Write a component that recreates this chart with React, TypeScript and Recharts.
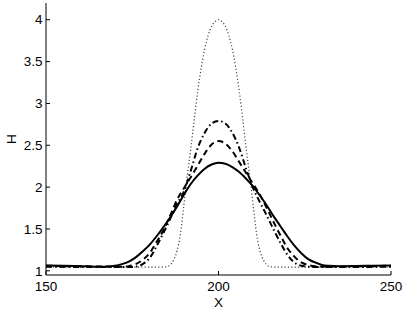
import React from 'react';
import { LineChart, Line, XAxis, YAxis } from 'recharts';

// Tick labels
const xTicks = [150, 200, 250];
const yTicks = [1, 1.5, 2, 2.5, 3, 3.5, 4];

// Solid curve
const solidX = [150, 155, 160, 165, 168, 170, 172, 174, 176, 178, 180, 182, 184, 186, 188, 190, 192, 194, 196, 198, 200, 202, 204, 206, 208, 210, 212, 214, 216, 218, 220, 222, 224, 226, 228, 230, 232, 235, 240, 245, 250];
const solidH = [1.065, 1.062, 1.056, 1.05, 1.052, 1.06, 1.08, 1.11, 1.16, 1.23, 1.31, 1.41, 1.52, 1.64, 1.77, 1.91, 2.04, 2.14, 2.22, 2.27, 2.29, 2.28, 2.24, 2.18, 2.10, 2.01, 1.90, 1.78, 1.65, 1.53, 1.41, 1.30, 1.21, 1.14, 1.10, 1.07, 1.06, 1.055, 1.058, 1.062, 1.065];

// Dashed curve
const dashedX = [150, 160, 170, 172, 174, 176, 178, 180, 182, 184, 186, 188, 190, 192, 194, 196, 198, 200, 202, 204, 206, 208, 210, 212, 214, 216, 218, 220, 222, 224, 226, 228, 230, 240, 250];
const dashedH = [1.06, 1.055, 1.05, 1.05, 1.055, 1.08, 1.13, 1.21, 1.34, 1.48, 1.66, 1.85, 1.99, 2.12, 2.26, 2.40, 2.51, 2.55, 2.52, 2.43, 2.30, 2.17, 2.04, 1.91, 1.75, 1.58, 1.42, 1.27, 1.17, 1.10, 1.07, 1.055, 1.05, 1.055, 1.06];

// Dash-dot curve
const dashDotX = [150, 160, 170, 174, 176, 178, 180, 182, 184, 186, 188, 190, 192, 194, 196, 198, 200, 202, 204, 206, 208, 210, 212, 214, 216, 218, 220, 222, 224, 226, 228, 240, 250];
const dashDotH = [1.05, 1.045, 1.045, 1.045, 1.05, 1.08, 1.15, 1.29, 1.45, 1.62, 1.80, 1.95, 2.20, 2.47, 2.65, 2.76, 2.79, 2.76, 2.65, 2.47, 2.22, 1.99, 1.82, 1.66, 1.49, 1.33, 1.19, 1.10, 1.06, 1.05, 1.045, 1.045, 1.05];

// Dotted curve
const dottedX = [150, 160, 170, 180, 184, 185, 186, 187, 188, 189, 190, 191, 192, 193, 194, 196, 198, 200, 202, 204, 206, 207, 208, 209, 210, 211, 212, 213, 214, 215, 216, 220, 230, 240, 250];
const dottedH = [1.045, 1.045, 1.045, 1.045, 1.045, 1.05, 1.07, 1.13, 1.24, 1.45, 1.80, 2.15, 2.47, 2.82, 3.15, 3.65, 3.92, 4.00, 3.92, 3.65, 3.15, 2.82, 2.47, 2.15, 1.80, 1.45, 1.24, 1.13, 1.07, 1.05, 1.045, 1.045, 1.045, 1.045, 1.045];

const toData = (xs: number[], hs: number[]) => xs.map((x, i) => ({ x, h: hs[i] }));
const solidData = toData(solidX, solidH);
const dashedData = toData(dashedX, dashedH);
const dashDotData = toData(dashDotX, dashDotH);
const dottedData = toData(dottedX, dottedH);

const FONT = 'Liberation Sans, Arial, Helvetica, sans-serif';
const FS = 13.5;
const TL = 4;

const LeftTick = (p: any) => (
  <g>
    <line x1={p.x} x2={p.x + TL} y1={p.y} y2={p.y} stroke="#000" strokeWidth={1} />
    <text x={p.x - 3.5} y={p.y} dy="0.35em" textAnchor="end" fontSize={FS} fontFamily={FONT} fill="#000">
      {p.payload.value}
    </text>
  </g>
);
const RightTick = (p: any) => (
  <line x1={p.x} x2={p.x - TL} y1={p.y} y2={p.y} stroke="#000" strokeWidth={1} />
);
const BottomTick = (p: any) => (
  <g>
    <line x1={p.x} x2={p.x} y1={p.y} y2={p.y - TL} stroke="#000" strokeWidth={1} />
    <text x={p.x} y={p.y + 16} textAnchor="middle" fontSize={FS} fontFamily={FONT} fill="#000">
      {p.payload.value}
    </text>
  </g>
);
const TopTick = (p: any) => (
  <line x1={p.x} x2={p.x} y1={p.y} y2={p.y + TL} stroke="#000" strokeWidth={1} />
);

export default function App() {
  return (
    <div style={{ position: 'absolute', left: 0, top: 0, width: 407, height: 312, background: '#fff' }}>
      <LineChart width={407} height={312} margin={{ top: 3, right: 16, left: 0, bottom: 0 }}>
        <XAxis
          dataKey="x"
          type="number"
          domain={[150, 250]}
          ticks={xTicks}
          interval={0}
          height={37}
          tickSize={0}
          tickMargin={0}
          tick={BottomTick}
          axisLine={{ stroke: '#000', strokeWidth: 1 }}
          allowDataOverflow
          label={{ value: 'X', position: 'insideBottom', offset: 5, fill: '#000', fontSize: FS, fontFamily: FONT }}
        />
        <XAxis
          xAxisId="top"
          orientation="top"
          dataKey="x"
          type="number"
          domain={[150, 250]}
          ticks={xTicks}
          interval={0}
          height={0}
          tickSize={0}
          tickMargin={0}
          tick={TopTick}
          axisLine={{ stroke: '#000', strokeWidth: 1 }}
          allowDataOverflow
        />
        <YAxis
          type="number"
          domain={[0.95, 4.2]}
          ticks={yTicks}
          interval={0}
          width={46}
          tickSize={0}
          tickMargin={0}
          tick={LeftTick}
          axisLine={{ stroke: '#000', strokeWidth: 1 }}
          allowDataOverflow
          label={{
            content: () => (
              <text x={11.5} y={139} transform="rotate(-90 11.5 139)" textAnchor="middle" dominantBaseline="central" fontSize={FS} fontFamily={FONT} fill="#000">
                H
              </text>
            ),
          }}
        />
        <YAxis
          yAxisId="right"
          orientation="right"
          type="number"
          domain={[0.95, 4.2]}
          ticks={yTicks}
          interval={0}
          width={0}
          tickSize={0}
          tickMargin={0}
          tick={RightTick}
          axisLine={{ stroke: '#000', strokeWidth: 1 }}
          allowDataOverflow
        />
        <Line data={dottedData} dataKey="h" type="monotone" stroke="#444" strokeWidth={1.2} strokeDasharray="1.2 2.2" dot={false} isAnimationActive={false} />
        <Line data={dashDotData} dataKey="h" type="monotone" stroke="#000" strokeWidth={2} strokeDasharray="6 3 1.5 3" dot={false} isAnimationActive={false} />
        <Line data={dashedData} dataKey="h" type="monotone" stroke="#000" strokeWidth={2} strokeDasharray="6 4" dot={false} isAnimationActive={false} />
        <Line data={solidData} dataKey="h" type="monotone" stroke="#000" strokeWidth={2} dot={false} isAnimationActive={false} />
      </LineChart>
    </div>
  );
}
